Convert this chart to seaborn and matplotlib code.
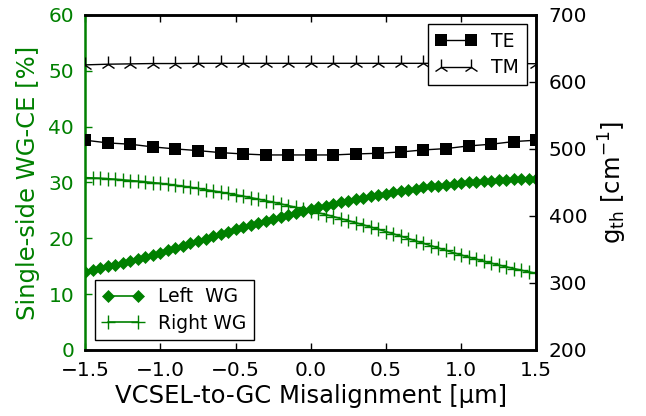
import matplotlib
matplotlib.use("Agg")
import matplotlib.pyplot as plt
import seaborn as sns

# misalignment [um]
x_fine = [round(-1.5 + 0.05 * i, 2) for i in range(61)]
x_coarse = [round(-1.5 + 0.15 * i, 2) for i in range(21)]

# single-side WG coupling efficiency [%]
left_wg = [14.00, 14.30, 14.62, 14.94, 15.27, 15.60, 15.95, 16.30, 16.66, 17.03,
           17.40, 17.81, 18.23, 18.65, 19.07, 19.50, 19.92, 20.34, 20.76, 21.18,
           21.60, 21.99, 22.37, 22.75, 23.13, 23.50, 23.85, 24.19, 24.53, 24.87,
           25.20, 25.51, 25.81, 26.11, 26.41, 26.70, 26.97, 27.23, 27.49, 27.75,
           28.00, 28.23, 28.45, 28.67, 28.89, 29.10, 29.27, 29.43, 29.59, 29.75,
           29.90, 30.01, 30.11, 30.21, 30.31, 30.40, 30.47, 30.53, 30.59, 30.65,
           30.70]
right_wg = [30.85, 30.80, 30.74, 30.66, 30.56, 30.45, 30.34, 30.22, 30.10, 29.96,
            29.82, 29.66, 29.49, 29.31, 29.12, 28.92, 28.70, 28.48, 28.25, 28.02,
            27.78, 27.53, 27.27, 27.00, 26.73, 26.45, 26.15, 25.84, 25.53, 25.21,
            24.90, 24.57, 24.23, 23.88, 23.52, 23.15, 22.77, 22.39, 22.00, 21.60,
            21.20, 20.78, 20.36, 19.94, 19.51, 19.08, 18.66, 18.24, 17.82, 17.41,
            17.00, 16.62, 16.25, 15.89, 15.54, 15.20, 14.88, 14.57, 14.27, 13.98,
            13.70]

# threshold gain [cm^-1]
te = [513, 509, 507, 503, 500, 497.5, 494.5, 492.5, 491, 491, 491,
      491, 492.5, 493.5, 495.5, 498.5, 500.5, 504.5, 507, 511, 513]
tm = [625.5, 626.5, 627, 627.5, 627.5, 627.8, 627.8, 627.8, 627.8, 627.8, 627.8,
      627.8, 627.8, 627.8, 627.8, 627.8, 627.8, 627.8, 627.5, 627.5, 627.2]

sns.set_style("ticks", {"xtick.direction": "in", "ytick.direction": "in"})
plt.rcParams["font.family"] = ["DejaVu Sans"]
plt.rcParams["mathtext.default"] = "regular"
plt.rcParams["text.color"] = "black"
plt.rcParams["axes.labelcolor"] = "black"
plt.rcParams["xtick.color"] = "black"
plt.rcParams["ytick.color"] = "black"

green = (0, 0.5, 0)

fig, ax1 = plt.subplots(figsize=(6.46, 4.16), dpi=100)
fig.subplots_adjust(left=0.132, right=0.830, bottom=0.159, top=0.964)
ax2 = ax1.twinx()

sns.lineplot(x=x_fine, y=left_wg, ax=ax1, color=green, marker="D", markersize=6.5,
             markeredgecolor=green, markeredgewidth=0.5, linewidth=1.2,
             label="Left  WG")
sns.lineplot(x=x_fine, y=right_wg, ax=ax1, color=green, marker="+", markersize=9.5,
             markeredgecolor=green, markeredgewidth=1, linewidth=1.2,
             label="Right WG")

sns.lineplot(x=x_coarse, y=te, ax=ax2, color="black", marker="s", markersize=9,
             markeredgecolor="black", markeredgewidth=0, linewidth=1,
             label="TE")
sns.lineplot(x=x_coarse, y=tm, ax=ax2, color="black", marker="2", markersize=11,
             markeredgecolor="black", markeredgewidth=1, linewidth=1,
             label="TM")

ax1.set_xlim(-1.5, 1.5)
ax1.set_ylim(0, 60)
ax2.set_ylim(200, 700)
ax1.set_xticks([-1.5, -1.0, -0.5, 0.0, 0.5, 1.0, 1.5])
ax1.set_yticks(range(0, 61, 10))
ax2.set_yticks(range(200, 701, 100))

ax1.set_xlabel("VCSEL-to-GC Misalignment [μm]", fontsize=17.5, labelpad=3)
ax1.set_ylabel("Single-side WG-CE [%]", fontsize=17.5, color=green, labelpad=6)
ax2.set_ylabel("g$_{th}$ [cm$^{-1}$]", fontsize=17.5, labelpad=7)

ax1.tick_params(axis="x", top=True, bottom=True, direction="in", length=5,
                width=1, labelsize=14.5, pad=8)
ax1.tick_params(axis="y", left=True, right=False, direction="in", length=5,
                width=1, labelsize=14.5, colors=green, pad=8)
ax2.tick_params(axis="y", right=True, left=False, direction="in", length=5,
                width=1, labelsize=14.5, colors="black", pad=9)

for ax in (ax1, ax2):
    for s in ax.spines.values():
        s.set_linewidth(1.8)
        s.set_color("black")
        s.set_visible(True)
ax1.spines["left"].set_color(green)
ax2.spines["left"].set_visible(False)

leg1 = ax1.legend(loc="lower left", numpoints=2, fontsize=13.5, fancybox=False,
                  edgecolor="black", framealpha=1, handlelength=2.2,
                  labelspacing=0.4)
leg2 = ax2.legend(loc="upper right", numpoints=2, fontsize=13.5, fancybox=False,
                  edgecolor="black", framealpha=1, handlelength=2.2,
                  labelspacing=0.4)
leg1.get_frame().set_linewidth(1)
leg2.get_frame().set_linewidth(1)

fig.savefig("out.png", dpi=100)
